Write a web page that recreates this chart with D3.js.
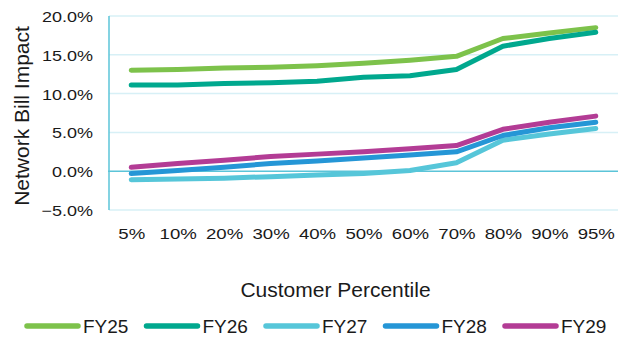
<!DOCTYPE html>
<html>
<head>
<meta charset="utf-8">
<script src="https://cdn.jsdelivr.net/npm/d3@7"></script>
<style>
  html, body { margin: 0; padding: 0; background: #fff; }
  svg { display: block; font-family: "Liberation Sans", Arial, sans-serif; }
</style>
</head>
<body>
<svg id="chart" width="618" height="345"></svg>
<script>
// Customer percentiles on the x axis
const percentiles = ["5%", "10%", "20%", "30%", "40%", "50%", "60%", "70%", "80%", "90%", "95%"];

// Network bill impact (%) per financial year
const fy25 = [13.0, 13.1, 13.3, 13.4, 13.6, 13.9, 14.3, 14.8, 17.1, 17.8, 18.5];
const fy26 = [11.1, 11.1, 11.3, 11.4, 11.6, 12.1, 12.3, 13.1, 16.1, 17.1, 17.9];
const fy27 = [-1.1, -1.0, -0.9, -0.7, -0.5, -0.3, 0.1, 1.1, 4.0, 4.8, 5.5];
const fy28 = [-0.3, 0.1, 0.5, 1.0, 1.3, 1.7, 2.1, 2.5, 4.6, 5.6, 6.3];
const fy29 = [0.5, 1.0, 1.4, 1.9, 2.2, 2.5, 2.9, 3.3, 5.4, 6.3, 7.1];

const seriesNames = ["FY25", "FY26", "FY27", "FY28", "FY29"];
const seriesValues = [fy25, fy26, fy27, fy28, fy29];
const seriesColors = ["#7dc24b", "#00a88e", "#56c6d9", "#2596d6", "#b33c95"];

const yTicks = [-5, 0, 5, 10, 15, 20];

const W = 618, H = 345;
const plot = { left: 108, right: 619, top: 16, bottom: 210 };
const axisColor = "#5bc4d8";
const gridColor = "#d7f0f6";
const textColor = "#1a1a1a";
const tickStretch = 1.2;

const svg = d3.select("#chart");

const x = d3.scalePoint()
  .domain(percentiles)
  .range([plot.left, plot.right])
  .padding(0.5);

const y = d3.scaleLinear()
  .domain([-5, 20])
  .range([plot.bottom, plot.top]);

// horizontal gridlines
svg.append("g")
  .selectAll("line")
  .data(yTicks.filter(d => d !== 0))
  .join("line")
  .attr("x1", plot.left + 1)
  .attr("x2", W)
  .attr("y1", d => y(d))
  .attr("y2", d => y(d))
  .attr("stroke", gridColor)
  .attr("stroke-width", 1.5);

// y axis labels (wide numerals)
const gy = svg.append("g")
  .attr("transform", `translate(${plot.left + 1},0)`)
  .call(d3.axisLeft(y)
    .tickValues(yTicks)
    .tickFormat(d => d3.format(".1f")(d) + "%")
    .tickSize(0));
gy.select(".domain").remove();
gy.selectAll("text")
  .attr("x", 0)
  .attr("dy", "0.36em")
  .attr("transform", `translate(-16,0) scale(${tickStretch},1)`)
  .attr("font-size", 15)
  .attr("fill", textColor)
  .style("font-family", "'Liberation Sans', Arial, sans-serif");

// zero line and left axis line
svg.append("line")
  .attr("x1", plot.left).attr("x2", W)
  .attr("y1", y(0)).attr("y2", y(0))
  .attr("stroke", axisColor).attr("stroke-width", 1.5);
svg.append("line")
  .attr("x1", plot.left + 1).attr("x2", plot.left + 1)
  .attr("y1", y(20)).attr("y2", y(-5))
  .attr("stroke", axisColor).attr("stroke-width", 1.5);

// x axis labels (wide numerals)
const gx = svg.append("g")
  .attr("transform", `translate(0,${y(-5)})`)
  .call(d3.axisBottom(x).tickSize(0));
gx.select(".domain").remove();
gx.selectAll("text")
  .attr("y", 0)
  .attr("dy", 0)
  .attr("transform", `translate(0,29) scale(${tickStretch},1)`)
  .attr("font-size", 15.5)
  .attr("fill", textColor)
  .style("font-family", "'Liberation Sans', Arial, sans-serif");

// series lines
const line = d3.line()
  .x((d, i) => x(percentiles[i]))
  .y(d => y(d));

svg.append("g")
  .selectAll("path")
  .data(seriesValues)
  .join("path")
  .attr("d", d => line(d))
  .attr("fill", "none")
  .attr("stroke", (d, i) => seriesColors[i])
  .attr("stroke-width", 5)
  .attr("stroke-linecap", "round")
  .attr("stroke-linejoin", "round");

// axis titles
svg.append("text")
  .attr("transform", `translate(29,116) rotate(-90)`)
  .attr("text-anchor", "middle")
  .attr("font-size", 21)
  .attr("fill", textColor)
  .text("Network Bill Impact");

svg.append("text")
  .attr("x", 335.5)
  .attr("y", 296.5)
  .attr("text-anchor", "middle")
  .attr("font-size", 21)
  .attr("fill", textColor)
  .text("Customer Percentile");

// legend
const legend = svg.append("g")
  .selectAll("g")
  .data(seriesNames)
  .join("g")
  .attr("transform", (d, i) => `translate(${25 + i * 119.5},326)`);

legend.append("line")
  .attr("x1", 2).attr("x2", 53)
  .attr("y1", 0).attr("y2", 0)
  .attr("stroke", (d, i) => seriesColors[i])
  .attr("stroke-width", 5.5)
  .attr("stroke-linecap", "round");

legend.append("text")
  .attr("x", 58)
  .attr("y", 7)
  .attr("font-size", 19)
  .attr("fill", textColor)
  .text(d => d);
</script>
</body>
</html>
